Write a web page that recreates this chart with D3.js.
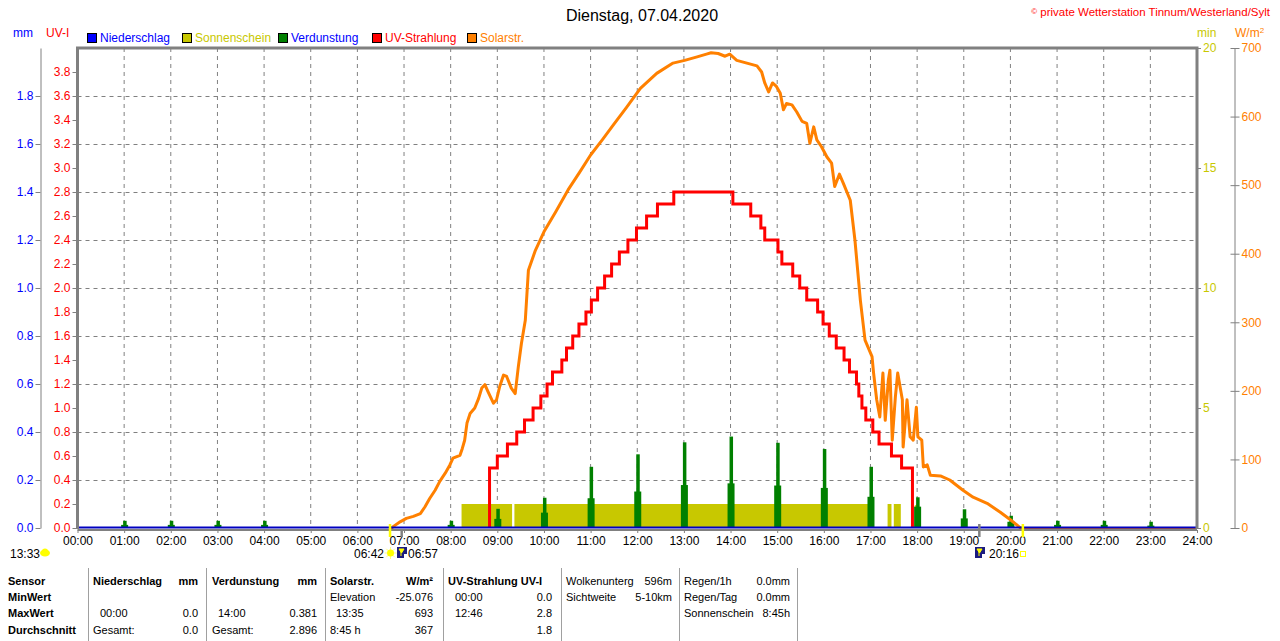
<!DOCTYPE html>
<html><head><meta charset="utf-8">
<script src="https://cdn.jsdelivr.net/npm/d3@7"></script>
<style>
body{margin:0;background:#fff;}
svg{display:block;font-family:"Liberation Sans",Arial,sans-serif;}
</style></head>
<body><svg id="c" width="1280" height="641"></svg>
<script>
// ---------- DATA ----------
const titleText = "Dienstag, 07.04.2020";
const copyrightText = "private Wetterstation Tinnum/Westerland/Sylt";
const legendNames = ["Niederschlag","Sonnenschein","Verdunstung","UV-Strahlung","Solarstr."];
const legendColors = ["#0000ff","#c8c800","#008000","#ff0000","#ff8000"];
const legendTextColors = ["#0000ff","#c8c800","#0000ff","#ff0000","#ff8000"];
const xTickLabels = d3.range(0,25).map(h => (h<10?"0":"")+h+":00");
const mmTicks = [0,0.2,0.4,0.6,0.8,1.0,1.2,1.4,1.6,1.8];
const uvTicks = [0,0.2,0.4,0.6,0.8,1.0,1.2,1.4,1.6,1.8,2.0,2.2,2.4,2.6,2.8,3.0,3.2,3.4,3.6,3.8];
const minTicks = [0,5,10,15,20];
const wTicks = [0,100,200,300,400,500,600,700];

// Solar radiation W/m²
const solarTimes = ["06:43","06:46","06:55","07:03","07:12","07:21","07:27","07:33","07:40","07:46","07:53","07:59","08:03","08:12","08:15","08:18","08:21","08:25","08:31","08:36","08:40","08:44","08:48","08:55","08:59","09:03","09:08","09:12","09:18","09:23","09:27","09:31","09:36","09:40","09:49","10:00","10:15","10:31","10:46","11:00","11:15","11:30","11:46","12:04","12:25","12:46","13:01","13:17","13:29","13:35","13:44","13:53","13:59","14:08","14:21","14:34","14:40","14:44","14:49","14:54","14:59","15:04","15:08","15:12","15:19","15:25","15:32","15:38","15:42","15:47","15:51","15:57","16:04","16:10","16:14","16:20","16:25","16:34","16:40","16:47","16:53","17:02","17:04","17:08","17:12","17:16","17:19","17:23","17:25","17:28","17:32","17:35","17:41","17:42","17:47","17:51","17:55","17:59","18:01","18:06","18:08","18:13","18:17","18:30","18:42","18:59","19:12","19:30","19:47","20:00","20:12","20:16","24:00"];
const solarValues = [0,2,9,14,17,21,31,43,55,68,80,92,102,106,116,128,153,167,175,189,204,209,199,182,187,206,223,221,204,196,235,269,303,376,405,432,461,493,519,544,566,589,613,641,663,678,682,687,691,693,692,688,691,682,678,674,665,649,636,649,644,634,610,619,617,607,593,590,561,585,566,556,541,532,498,516,503,478,420,332,274,250,226,187,162,226,157,216,230,128,191,226,187,118,187,133,128,176,133,128,89,92,77,76,70,55,45,36,23,12,1,0,0];

// UV index (step values)
const uvTimes = ["08:50","08:50","09:00","09:13","09:25","09:35","09:46","09:56","10:04","10:11","10:23","10:29","10:37","10:45","10:54","11:01","11:09","11:18","11:27","11:37","11:48","11:59","12:12","12:26","12:47","14:03","14:26","14:39","14:44","15:01","15:06","15:20","15:29","15:38","15:52","15:59","16:07","16:16","16:26","16:33","16:42","16:45","16:49","16:54","17:03","17:11","17:27","17:40","17:54"];
const uvValues = [0,0.5,0.6,0.7,0.8,0.9,1.0,1.1,1.2,1.3,1.4,1.5,1.6,1.7,1.8,1.9,2.0,2.1,2.2,2.3,2.4,2.5,2.6,2.7,2.8,2.7,2.6,2.5,2.4,2.3,2.2,2.1,2.0,1.9,1.8,1.7,1.6,1.5,1.4,1.3,1.2,1.1,1.0,0.9,0.8,0.7,0.6,0.5,0];

// Sunshine (min) intervals
const sunStart = ["08:14","09:22","17:22","17:30","17:57"];
const sunEnd   = ["09:19","16:57","17:27","17:39","17:59"];
const sunValue = [1,1,1,1,0.95];

// Evaporation (mm), hourly spikes
const evapHours = [1,2,3,4,8,9,10,11,12,13,14,15,16,17,18,19,20,21,22,23];
const evapPeak  = [0.03,0.03,0.03,0.03,0.03,0.08,0.126,0.255,0.307,0.357,0.381,0.355,0.329,0.255,0.128,0.078,0.051,0.03,0.03,0.026];
const evapBase  = [0.013,0.013,0.013,0.013,0.013,0.038,0.064,0.124,0.152,0.179,0.186,0.177,0.167,0.13,0.089,0.04,0.026,0.013,0.013,0.01];

// Precipitation (mm)
const rainTimes = ["00:00","24:00"];
const rainValues = [0,0];

// Sun / moon events
const sunriseTime = "06:42", sunsetTime = "20:16";
const moonsetTime = "06:57", moonriseTime = "19:20";
const cloudLabel = "13:33";

// Table
const tableRows = [
 ["Sensor","Niederschlag","","mm","Verdunstung","","mm","Solarstr.","","W/m²","UV-Strahlung UV-I","","","Wolkenunterg","596m","Regen/1h","0.0mm"],
 ["MinWert","","","","","","","Elevation","","-25.076","","00:00","0.0","Sichtweite","5-10km","Regen/Tag","0.0mm"],
 ["MaxWert","","00:00","0.0","","14:00","0.381","","13:35","693","","12:46","2.8","","","Sonnenschein","8:45h"],
 ["Durchschnitt","Gesamt:","","0.0","Gesamt:","","2.896","8:45 h","","367","","","1.8","","","",""]
];

// ---------- DRAW ----------
const tp = s => { const [h,m] = s.split(":").map(Number); return h + m/60; };
const svg = d3.select("#c");
const L = 77.5, R = 1197, T = 48, B = 528;
const x = d3.scaleLinear().domain([0,24]).range([L,R]);
const yUV = d3.scaleLinear().domain([0,4]).range([B,T]);
const yMM = d3.scaleLinear().domain([0,2]).range([B,T]);
const yMin = d3.scaleLinear().domain([0,20]).range([B,T]);
const yW = d3.scaleLinear().domain([0,700]).range([B,T]);
const grey = "#808080";

// grid
const grid = svg.append("g");
d3.range(1,24).forEach(h => grid.append("line").attr("x1",x(h)).attr("x2",x(h)).attr("y1",T).attr("y2",B)
  .attr("stroke",grey).attr("stroke-dasharray","4,4").attr("stroke-width",1));
d3.range(1,10).map(i=>i*0.4).forEach(v => grid.append("line").attr("x1",L).attr("x2",R).attr("y1",Math.round(yUV(v))+0.5).attr("y2",Math.round(yUV(v))+0.5)
  .attr("stroke",grey).attr("stroke-dasharray","4,4").attr("stroke-width",1));

// sunshine
svg.append("g").selectAll("rect").data(sunStart).join("rect")
  .attr("x",(d,i)=>x(tp(d))).attr("width",(d,i)=>x(tp(sunEnd[i]))-x(tp(d)))
  .attr("y",(d,i)=>yMin(sunValue[i])).attr("height",(d,i)=>yMin(0)-yMin(sunValue[i]))
  .attr("fill","#c8c800");

// evaporation
const eg = svg.append("g").attr("fill","#008000");
evapHours.forEach((h,i)=>{
  eg.append("rect").attr("x",x(h)-3).attr("width",7).attr("y",yMM(evapBase[i])).attr("height",yMM(0)-yMM(evapBase[i]));
  eg.append("rect").attr("x",x(h)-1).attr("width",3.5).attr("y",yMM(evapPeak[i])).attr("height",yMM(0)-yMM(evapPeak[i]));
});

// solar line
svg.append("path").datum(solarTimes.map((t,i)=>[tp(t),solarValues[i]]))
  .attr("d", d3.line().x(d=>x(d[0])).y(d=>yW(d[1])+ (d[1]===0?1:0)))
  .attr("fill","none").attr("stroke","#ff8000").attr("stroke-width",3).attr("stroke-linejoin","round");

// UV line
svg.append("path").datum(uvTimes.map((t,i)=>[tp(t),uvValues[i]]))
  .attr("d", d3.line().curve(d3.curveStepAfter).x(d=>x(d[0])).y(d=>yUV(d[1])))
  .attr("fill","none").attr("stroke","#ff0000").attr("stroke-width",3);

// rain line
svg.append("path").datum(rainTimes.map((t,i)=>[tp(t),rainValues[i]]))
  .attr("d", d3.line().x(d=>x(d[0])).y(d=>yMM(d[1])-0.5))
  .attr("fill","none").attr("stroke","#0000c0").attr("stroke-width",2);

// frame
svg.append("path").attr("d",`M${L},${B+1} V${T} H${R} V${B+1}`).attr("fill","none").attr("stroke",grey).attr("stroke-width",3);
svg.append("line").attr("x1",L).attr("x2",R).attr("y1",B+2).attr("y2",B+2).attr("stroke",grey).attr("stroke-width",2);

// axes
function styleAxis(g,color){
  g.selectAll(".domain").attr("stroke",grey);
  g.selectAll(".tick line").attr("stroke",grey);
  g.selectAll("text").attr("fill",color).attr("font-size","12px").attr("font-family","Liberation Sans, Arial, sans-serif");
}
const xa = svg.append("g").attr("transform",`translate(0,${B+2})`)
  .call(d3.axisBottom(x).tickValues(d3.range(0,25)).tickFormat((d,i)=>xTickLabels[i]).tickSize(3).tickSizeOuter(0).tickPadding(3));
styleAxis(xa,"#000"); xa.select(".domain").remove();

const mma = svg.append("g").attr("transform","translate(40.5,0)")
  .call(d3.axisLeft(yMM).tickValues(mmTicks).tickFormat(d3.format(".1f")).tickSize(5).tickSizeOuter(0).tickPadding(2));
styleAxis(mma,"#0000ff");

const uva = svg.append("g").attr("transform",`translate(${L},0)`)
  .call(d3.axisLeft(yUV).tickValues(uvTicks).tickFormat(d3.format(".1f")).tickSize(5).tickSizeOuter(0).tickPadding(2));
styleAxis(uva,"#ff0000"); uva.select(".domain").remove();

const mina = svg.append("g").attr("transform",`translate(${R},0)`)
  .call(d3.axisRight(yMin).tickValues(minTicks).tickSize(4).tickSizeOuter(0).tickPadding(2));
styleAxis(mina,"#c8c800"); mina.select(".domain").remove();

const wa = svg.append("g").attr("transform","translate(1234.5,0)")
  .call(d3.axisRight(yW).tickValues(wTicks).tickSize(5).tickSizeOuter(0).tickPadding(2));
styleAxis(wa,"#ff8000");
wa.selectAll(".tick line").attr("x1",-4);

// axis titles
const at = (t,xx,yy,c,anchor)=>svg.append("text").attr("x",xx).attr("y",yy).attr("fill",c).attr("font-size","12px").attr("text-anchor",anchor||"start").text(t);
at("mm",13,37,"#0000ff"); at("UV-I",46,37,"#ff0000");
at("min",1197,37,"#c8c800"); 
const wt = svg.append("text").attr("x",1235).attr("y",37).attr("fill","#ff8000").attr("font-size","12px");
wt.append("tspan").text("W/m"); wt.append("tspan").attr("font-size","8px").attr("dy",-4).text("2");

// title and copyright
svg.append("text").attr("x",642).attr("y",21).attr("text-anchor","middle").attr("font-size","16px").attr("fill","#000").text(titleText);
const cp = svg.append("text").attr("x",1270).attr("y",16).attr("text-anchor","end").attr("font-size","11.5px").attr("fill","#ff0000");
cp.append("tspan").attr("font-size","8px").attr("dy",-2).text("©");
cp.append("tspan").attr("dy",2).text(" "+copyrightText);

// legend
const legX = [87,182,278,372,467];
legendNames.forEach((n,i)=>{
  svg.append("rect").attr("x",legX[i]+0.5).attr("y",33.5).attr("width",9).attr("height",9).attr("fill",legendColors[i]).attr("stroke","#000").attr("stroke-width",1);
  svg.append("text").attr("x",legX[i]+13).attr("y",42).attr("font-size","12px").attr("fill",legendTextColors[i]).text(n);
});

// sun/moon markers
const mk = (t,y1,c,w)=>svg.append("line").attr("x1",x(tp(t))).attr("x2",x(tp(t))).attr("y1",y1).attr("y2",537).attr("stroke",c).attr("stroke-width",w);
mk(sunriseTime,524,"#ffff00",2.5); mk(sunsetTime,524,"#ffff00",2.5);
mk(moonsetTime,529,grey,2.5); mk(moonriseTime,524,grey,2.5);
const lab = (t,xx,yy,anchor)=>svg.append("text").attr("x",xx).attr("y",yy).attr("font-size","12px").attr("fill","#000").attr("text-anchor",anchor||"start").text(t);
lab(sunriseTime,384,558,"end");
// sun icon
const sx = x(tp(sunriseTime))+0.5, sy=553;
d3.range(8).forEach(k=>{const a=k*Math.PI/4; svg.append("line").attr("x1",sx+Math.cos(a)*3).attr("y1",sy+Math.sin(a)*3).attr("x2",sx+Math.cos(a)*6).attr("y2",sy+Math.sin(a)*6).attr("stroke","#ffff80").attr("stroke-width",1);});
svg.append("circle").attr("cx",sx).attr("cy",sy).attr("r",3.5).attr("fill","#ffff00");
// moon icons
function moonIcon(xx){
  svg.append("rect").attr("x",xx).attr("y",547).attr("width",10).attr("height",11).attr("fill","#1c1c80");
  svg.append("path").attr("d",`M${xx+2},${549} h5 l-2.5,4 z M${xx+4},${549} v7`).attr("fill","#ffff00").attr("stroke","#ffff00").attr("stroke-width",1);
  svg.append("rect").attr("x",xx+7).attr("y",554).attr("width",3).attr("height",4).attr("fill","#ffffff");
}
moonIcon(397); lab(moonsetTime,408,558);
moonIcon(975); lab(sunsetTime,989,558);
svg.append("rect").attr("x",1020.5).attr("y",551.5).attr("width",5).attr("height",5).attr("fill","none").attr("stroke","#ffff00").attr("stroke-width",1);
// cloud label
lab(cloudLabel,10,558);
svg.append("ellipse").attr("cx",45).attr("cy",553).attr("rx",5).attr("ry",3.5).attr("fill","#ffff00");
svg.append("ellipse").attr("cx",45).attr("cy",551).attr("rx",3).attr("ry",2.5).attr("fill","#ffff00");

// table
const colX = [8,93,100,198,212,218,317,330,336,433,448,455,552,566,672,684,790];
const colAnchor = ["start","start","start","end","start","start","end","start","start","end","start","start","end","start","end","start","end"];
const rowY = [585,601,617,634];
const sepX = [88,206,325,443,561,679,797];
sepX.forEach(sx=>svg.append("line").attr("x1",sx+0.5).attr("x2",sx+0.5).attr("y1",568).attr("y2",641).attr("stroke","#a0a0a0").attr("stroke-width",1));
tableRows.forEach((row,ri)=>{
  row.forEach((cell,ci)=>{
    if(!cell) return;
    const bold = ci===0 || (ri===0 && ci<=12);
    svg.append("text").attr("x",colX[ci]).attr("y",rowY[ri]).attr("text-anchor",colAnchor[ci])
      .attr("font-size","11px").attr("font-weight",bold?"bold":"normal").attr("fill","#000").text(cell);
  });
});
</script>
</body></html>
